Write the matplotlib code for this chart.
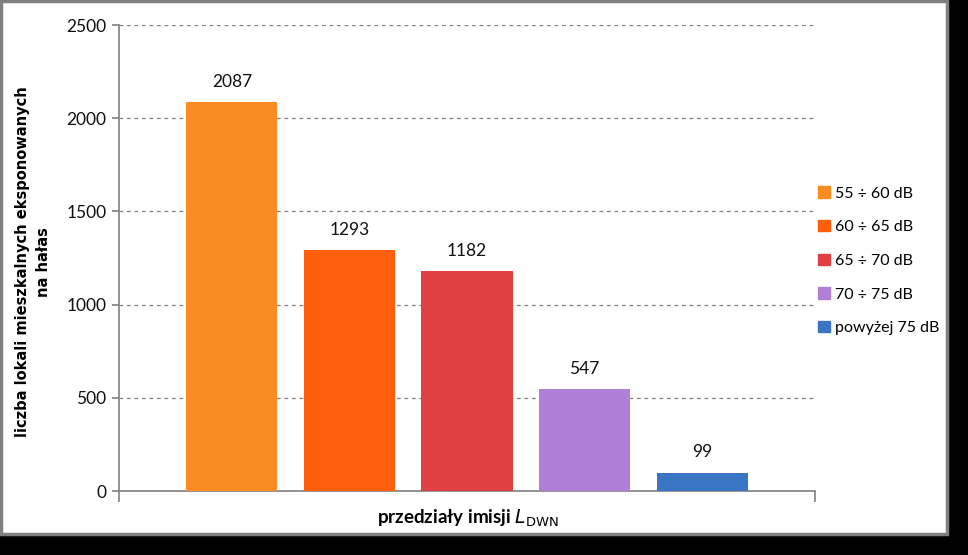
import numpy as np
import matplotlib.pyplot as plt
from matplotlib.patches import Rectangle

series = ['55 ÷ 60 dB', '60 ÷ 65 dB', '65 ÷ 70 dB', '70 ÷ 75 dB', 'powyżej 75 dB']
values = [2087, 1293, 1182, 547, 99]
colors = ['#FA8C22', '#FF5F0A', '#DF4042', '#B07FD8', '#3A75C4']
yticks = [0, 500, 1000, 1500, 2000, 2500]

plt.rcParams['font.family'] = ['Lato', 'DejaVu Sans']

fig = plt.figure(figsize=(9.68, 5.55), dpi=100)
fig.patch.set_facecolor('black')
# white chart area with grey frame, black "shadow" to the right and below
fig.patches.append(Rectangle((0.001, 1 - 534 / 555), 946 / 968, 533 / 555,
                             transform=fig.transFigure, facecolor='white',
                             edgecolor='#808080', linewidth=2.5, zorder=-5))

ax = fig.add_axes([119 / 968, 1 - 491 / 555, 696 / 968, 466 / 555])
ax.set_facecolor('none')

x = np.arange(len(values))
bars = ax.bar(x, values, width=0.775, color=colors, zorder=3)
for b, v in zip(bars, values):
    ax.text(b.get_x() + b.get_width() / 2, v + 65, str(v), ha='center',
            va='bottom', fontsize=12.5, color='#111111')

ax.set_xlim(-0.96, 4.96)
ax.set_ylim(0, 2500)
ax.set_yticks(yticks)
ax.set_xticks([-0.96, 4.96])
ax.set_xticklabels(['', ''])
ax.tick_params(axis='x', length=8, color='#808080', width=1.2)
ax.tick_params(axis='y', length=5, color='#808080', width=1.2, labelsize=12.5,
               pad=4, labelcolor='#111111')
ax.grid(axis='y', linestyle=(0, (3, 3)), color='#808080', linewidth=0.9, zorder=0)

for s in ['top', 'right']:
    ax.spines[s].set_visible(False)
for s in ['left', 'bottom']:
    ax.spines[s].set_color('#808080')
    ax.spines[s].set_linewidth(1.2)

fig.text(33 / 968, 1 - 262 / 555, 'liczba lokali mieszkalnych eksponowanych\nna hałas',
         rotation=90, ha='center', va='center', family='DejaVu Sans',
         fontsize=10.5, fontweight='bold', linespacing=1.45)
fig.text(468 / 968, 1 - 518 / 555, r'przedziały imisji $\mathit{L}_{\mathrm{DWN}}$',
         ha='center', va='center', fontsize=13.5, fontweight='bold')

handles = [Rectangle((0, 0), 1, 1, color=c) for c in colors]
fig.legend(handles, series, loc='upper left', bbox_to_anchor=(812 / 968, 1 - 180 / 555),
           frameon=False, fontsize=11.5, handlelength=0.7, handleheight=0.7,
           handletextpad=0.35, labelspacing=1.22, borderaxespad=0)

fig.savefig('out.png', dpi=100, facecolor=fig.get_facecolor())
